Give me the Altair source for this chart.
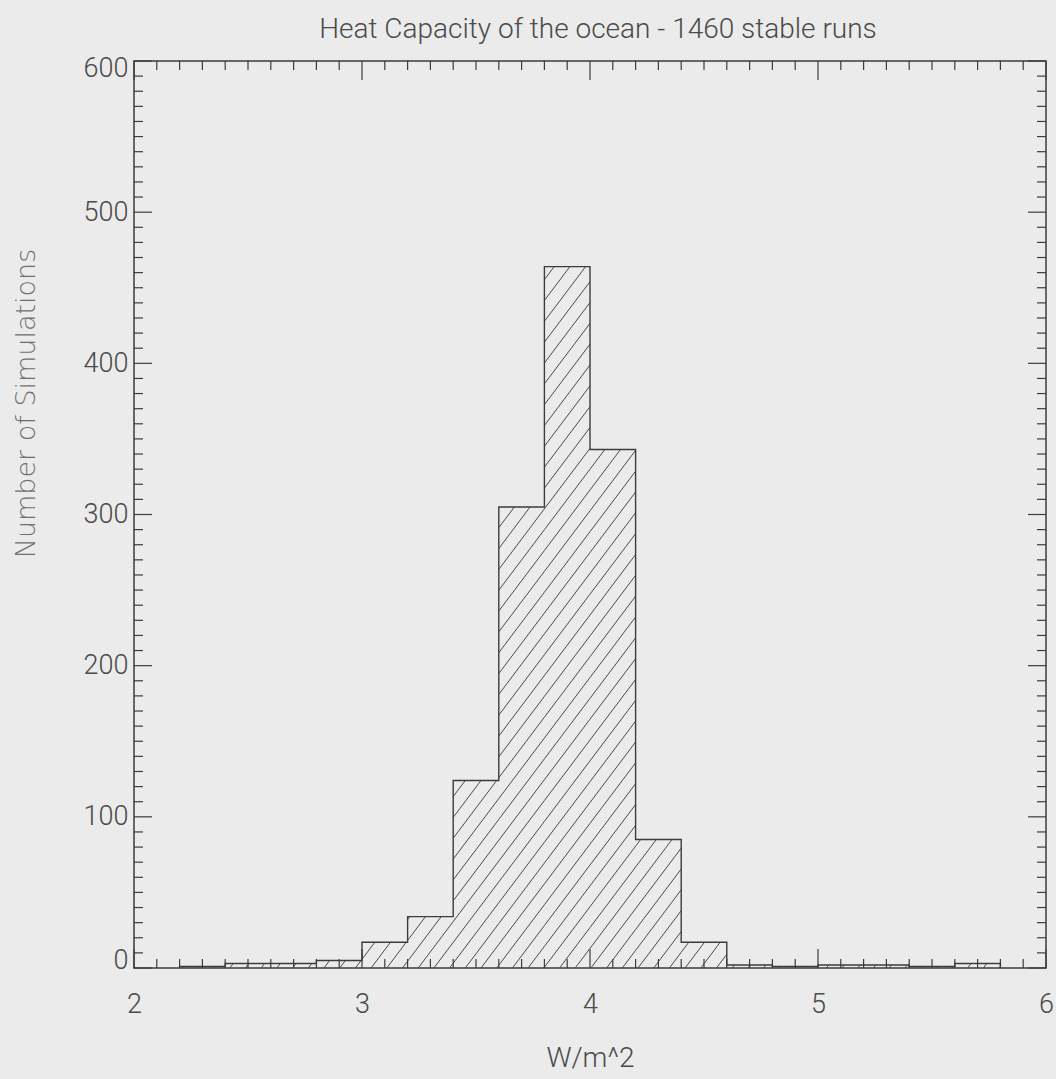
import math
import altair as alt
import pandas as pd

# Histogram of ocean heat capacity (bin width 0.2 W/m^2)
bin_left = [2.2, 2.4, 2.6, 2.8, 3.0, 3.2, 3.4, 3.6, 3.8, 4.0,
            4.2, 4.4, 4.6, 4.8, 5.0, 5.2, 5.4, 5.6]
counts = [1, 3, 3, 5, 17, 34, 124, 305, 464, 343,
          85, 17, 2, 1, 2, 2, 1, 3]
bin_width = 0.2

x_major = [2, 3, 4, 5, 6]
x_minor = [round(2 + 0.1 * i, 1) for i in range(41) if i % 10]
y_major = [0, 100, 200, 300, 400, 500, 600]
y_minor = [v for v in range(0, 601, 10) if v % 100]

W, H = 912, 907
X_DOM = [2, 6]
Y_DOM = [0, 600]
INK = "#3c3c3c"
TEXT = "#4a4a4a"
FONT = "Roboto"

xs = alt.Scale(domain=X_DOM, nice=False, zero=False)
ys = alt.Scale(domain=Y_DOM, nice=False, zero=False)

x_axis = alt.Axis(
    values=x_major, format="d", title="W/m^2", domain=False, ticks=False,
    tickSize=0, grid=False, labelPadding=23, labelFlush=False,
    labelFont=FONT, labelFontWeight=300,
    labelFontSize=27, labelColor=TEXT, titleFont=FONT, titleFontWeight=300,
    titleFontSize=28, titleColor=TEXT, titleY=90, titleBaseline="middle")
y_axis = alt.Axis(
    values=y_major, format="d", title="Number of Simulations", domain=False,
    ticks=False, tickSize=0, grid=False, labelPadding=6, labelFlush=True,
    labelFlushOffset=6,
    labelFont=FONT, labelFontWeight=300, labelFontSize=27, labelColor=TEXT,
    titleFont="DejaVu Sans", titleFontWeight=200, titleFontSize=27,
    titleColor="#707070", titleAngle=-90, titleX=-108, titleY=342,
    titleAlign="center", titleBaseline="middle")

# step outline of the histogram
outline = [{"i": 0, "x": bin_left[0], "y": 0}]
for k, (x0, c) in enumerate(zip(bin_left, counts)):
    outline.append({"i": k + 1, "x": x0, "y": c})
outline.append({"i": len(counts) + 1, "x": bin_left[-1] + bin_width, "y": 0})
outline_df = pd.DataFrame(outline)

# diagonal hatching clipped to each bar (computed in screen units)
px_x = W / (X_DOM[1] - X_DOM[0])
px_y = H / (Y_DOM[1] - Y_DOM[0])
slope = math.tan(math.radians(53))
gap = 15.7
phase = 1.6
segs = []
for x0, c in zip(bin_left, counts):
    u0 = (x0 - X_DOM[0]) * px_x
    u1 = (x0 + bin_width - X_DOM[0]) * px_x
    vh = c * px_y
    k = math.floor((u0 - vh / slope - phase) / gap) - 1
    while True:
        cc = phase + k * gap
        if cc > u1:
            break
        lo = max(u0, cc)
        hi = min(u1, cc + vh / slope)
        if hi > lo:
            segs.append({
                "x": X_DOM[0] + lo / px_x, "y": slope * (lo - cc) / px_y,
                "x2": X_DOM[0] + hi / px_x, "y2": slope * (hi - cc) / px_y,
            })
        k += 1
hatch_df = pd.DataFrame(segs)

hatch = alt.Chart(hatch_df).mark_rule(color="#4a4a4a", strokeWidth=1).encode(
    x=alt.X("x:Q", scale=xs, axis=x_axis), x2="x2:Q",
    y=alt.Y("y:Q", scale=ys, axis=y_axis), y2="y2:Q")

step = alt.Chart(outline_df).mark_line(
    interpolate="step-after", color=INK, strokeWidth=1.4).encode(
    x=alt.X("x:Q", scale=xs, axis=x_axis),
    y=alt.Y("y:Q", scale=ys, axis=y_axis),
    order="i:Q")


def xticks(vals, length, top):
    df = pd.DataFrame({"x": vals})
    y0 = 0 if top else H
    y1 = length if top else H - length
    return alt.Chart(df).mark_rule(color=INK, strokeWidth=1.2).encode(
        x=alt.X("x:Q", scale=xs, axis=x_axis),
        y=alt.value(y0), y2=alt.value(y1))


def yticks(vals, length, right):
    df = pd.DataFrame({"y": vals})
    x0 = W if right else 0
    x1 = W - length if right else length
    return alt.Chart(df).mark_rule(color=INK, strokeWidth=1.2).encode(
        y=alt.Y("y:Q", scale=ys, axis=y_axis),
        x=alt.value(x0), x2=alt.value(x1))


ticks = [
    xticks(x_major, 19, False), xticks(x_minor, 9, False),
    xticks(x_major, 19, True), xticks(x_minor, 9, True),
    yticks(y_major, 18, False), yticks(y_minor, 9, False),
    yticks(y_major, 18, True), yticks(y_minor, 9, True),
]

chart = alt.layer(hatch, step, *ticks).properties(
    width=W, height=H,
    title=alt.TitleParams(
        "Heat Capacity of the ocean - 1460 stable runs", font=FONT,
        fontWeight=300, fontSize=28, color=TEXT, anchor="middle", offset=10,
        dx=8),
    autosize=alt.AutoSizeParams(type="none"),
    padding={"left": 134, "top": 61, "right": 10, "bottom": 111},
).configure(background="#ebebeb").configure_view(
    stroke=INK, strokeWidth=1.5)

chart.save("out.html", embed_options={"renderer": "svg", "actions": False})
